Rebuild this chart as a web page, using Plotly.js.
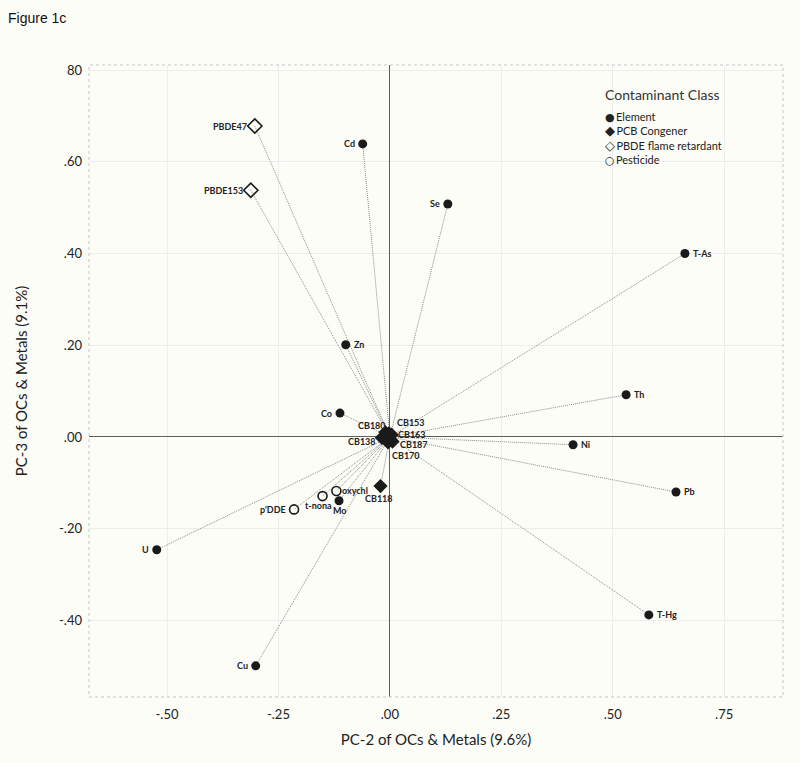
<!DOCTYPE html>
<html>
<head>
<meta charset="utf-8">
<script src="https://cdn.plot.ly/plotly-3.0.1.min.js"></script>
<style>
  html, body { margin: 0; padding: 0; background: #fdfdf8; }
  #chart { width: 800px; height: 763px; }
</style>
</head>
<body>
<div id="chart"></div>
<script>
// ---- data ----
const labels = ["PBDE47", "PBDE153", "Cd", "Se", "T-As", "Zn", "Co", "Th", "Ni", "Pb", "T-Hg", "U", "Cu", "Mo",
                "oxychl", "t-nona", "p'DDE", "CB118", "CB138", "CB180", "CB153", "CB163", "CB187", "CB170"];
const classes = ["PBDE flame retardant", "PBDE flame retardant", "Element", "Element", "Element", "Element", "Element",
                 "Element", "Element", "Element", "Element", "Element", "Element", "Element",
                 "Pesticide", "Pesticide", "Pesticide", "PCB Congener", "PCB Congener", "PCB Congener",
                 "PCB Congener", "PCB Congener", "PCB Congener", "PCB Congener"];
const pc2 = [-0.303, -0.312, -0.061, 0.130, 0.662, -0.099, -0.112, 0.530, 0.411, 0.642, 0.581, -0.523, -0.301, -0.114,
             -0.120, -0.151, -0.215, -0.021, -0.018, -0.010, -0.002, 0.004, 0.006, -0.004];
const pc3 = [0.678, 0.538, 0.639, 0.508, 0.400, 0.201, 0.052, 0.092, -0.017, -0.120, -0.388, -0.246, -0.499, -0.139,
             -0.118, -0.129, -0.158, -0.107, -0.002, 0.010, 0.008, 0.005, -0.010, -0.012];
const classOrder = ["Element", "PCB Congener", "PBDE flame retardant", "Pesticide"];
const legendSymbols = ["\u25CF", "\u25C6", "\u25C7", "\u25CB"];
const legendTitle = "Contaminant Class";
const xTickVals = [-0.5, -0.25, 0, 0.25, 0.5, 0.75];
const xTickText = ["-.50", "-.25", ".00", ".25", ".50", ".75"];
const yTickVals = [0.8, 0.6, 0.4, 0.2, 0, -0.2, -0.4];
const yTickText = ["80", ".60", ".40", ".20", ".00", "-.20", "-.40"];

// ---- styles ----
// label placement: [xanchor, xshift px, yshift px]
const labelPlace = {
  "PBDE47": ["right", -7, 0], "PBDE153": ["right", -7, 0], "Cd": ["right", -7, 0], "Se": ["right", -7, 0],
  "T-As": ["left", 7, 0], "Zn": ["left", 7, 0], "Co": ["right", -7, 0], "Th": ["left", 7, 0],
  "Ni": ["left", 7, 0], "Pb": ["left", 7, 0], "T-Hg": ["left", 7, 0], "U": ["right", -7, 0],
  "Cu": ["right", -7, 0], "Mo": ["center", 1, -10], "oxychl": ["left", 5, 1], "t-nona": ["center", -4, -9],
  "p'DDE": ["right", -7, 0], "CB118": ["center", -2, -12], "CB138": ["right", -5, -4],
  "CB180": ["right", 2, 7], "CB153": ["left", 7, 11], "CB163": ["left", 5, 0],
  "CB187": ["left", 6, -3], "CB170": ["left", 3, -13]
};
const legendSymbolSize = [11, 13, 13, 11];
const markerStyle = {
  "Element": {symbol: "circle", size: 9, color: "#1a1a1a", line: {width: 0}},
  "PCB Congener": {symbol: "diamond", size: 11, color: "#1a1a1a", line: {width: 0}},
  "PBDE flame retardant": {symbol: "diamond-open", size: 11, color: "#1a1a1a", line: {width: 1.6}},
  "Pesticide": {symbol: "circle-open", size: 9, color: "#1a1a1a", line: {width: 1.6}}
};
const font = "Lato, 'Open Sans', sans-serif";
const labelFont = {family: "Lato, 'DejaVu Sans', sans-serif", size: 9, color: "#222", weight: "bold"};

// ---- traces ----
const lx = [], ly = [];
pc2.forEach((v, i) => { lx.push(0, v, null); ly.push(0, pc3[i], null); });
const traces = [{
  x: lx, y: ly, mode: "lines", type: "scatter", showlegend: false, hoverinfo: "skip",
  line: {color: "#8a8a8a", width: 1, dash: "1px,1px"}
}];
classOrder.forEach(c => {
  const idx = labels.map((_, i) => i).filter(i => classes[i] === c);
  traces.push({
    type: "scatter", mode: "markers", name: c, showlegend: false,
    x: idx.map(i => pc2[i]), y: idx.map(i => pc3[i]),
    text: idx.map(i => labels[i]),
    marker: markerStyle[c], cliponaxis: false
  });
});

// point labels
const annotations = labels.map((t, i) => {
  const p = labelPlace[t];
  return {x: pc2[i], y: pc3[i], xref: "x", yref: "y", text: t, showarrow: false, borderpad: 0,
          xanchor: p[0], yanchor: "middle", xshift: p[1], yshift: p[2], font: labelFont};
});
// legend (title + symbol lines)
annotations.push({
  xref: "paper", yref: "paper", x: 0.7406, y: 0.954, xanchor: "left", yanchor: "middle",
  text: legendTitle, showarrow: false, font: {family: font, size: 14, color: "#333"}
});
annotations.push({
  xref: "paper", yref: "paper", x: 0.7406, y: 0.883, xanchor: "left", yanchor: "middle", align: "left",
  text: classOrder.map((c, k) =>
    '<span style="font-family:\'DejaVu Sans\';font-size:' + legendSymbolSize[k] + 'px">' +
    legendSymbols[k] + '</span>\u2009' + c).join("<br>"),
  showarrow: false, font: {family: font, size: 11, color: "#222"}
});

const layout = {
  width: 800, height: 763,
  paper_bgcolor: "#fdfdf8", plot_bgcolor: "#fdfdf8",
  margin: {l: 89, r: 17, t: 65, b: 66},
  title: {text: "Figure 1c", x: 8 / 800, xanchor: "left", y: 1 - 18 / 763, yanchor: "middle",
          xref: "container", yref: "container",
          font: {family: "Arial, 'Liberation Sans', sans-serif", size: 14, color: "#111"}},
  xaxis: {
    range: [-0.675, 0.882], tickvals: xTickVals, ticktext: xTickText,
    showgrid: true, gridcolor: "#ededed", gridwidth: 1,
    zeroline: true, zerolinecolor: "#5e5e5e", zerolinewidth: 1,
    showline: false, ticks: "", ticklabelstandoff: 8,
    tickfont: {family: font, size: 13, color: "#222"},
    title: {text: "PC-2 of OCs & Metals (9.6%)", font: {family: font, size: 15, color: "#222"}, standoff: 13}
  },
  yaxis: {
    range: [-0.567, 0.811], tickvals: yTickVals, ticktext: yTickText,
    showgrid: true, gridcolor: "#ededed", gridwidth: 1,
    zeroline: true, zerolinecolor: "#5e5e5e", zerolinewidth: 1,
    showline: false, ticks: "", ticklabelstandoff: 6,
    tickfont: {family: font, size: 13, color: "#222"},
    title: {text: "PC-3 of OCs & Metals (9.1%)", font: {family: font, size: 15, color: "#222"}, standoff: 27}
  },
  shapes: [{type: "rect", xref: "paper", yref: "paper", x0: 0, x1: 1, y0: 0, y1: 1,
            line: {color: "#c4c4c4", width: 1, dash: "dot"}}],
  annotations: annotations,
  showlegend: false
};

Plotly.newPlot("chart", traces, layout, {displayModeBar: false, staticPlot: true});
</script>
</body>
</html>
